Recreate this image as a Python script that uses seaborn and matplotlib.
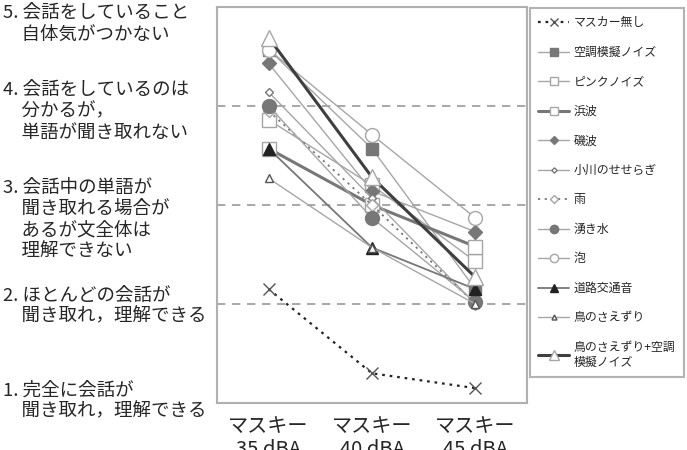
import numpy as np
import pandas as pd
import seaborn as sns
import matplotlib
matplotlib.use('Agg')
import matplotlib.pyplot as plt
from matplotlib import transforms

###############################################################################
# Data
###############################################################################
MASKERS = ['マスキー\n35 dBA', 'マスキー\n40 dBA', 'マスキー\n45 dBA']
SERIES = [
    'マスカー無し', '空調模擬ノイズ', 'ピンクノイズ', '浜波', '磯波',
    '小川のせせらぎ', '雨', '湧き水', '泡', '道路交通音', '鳥のさえずり',
    '鳥のさえずり+空調\n模擬ノイズ'
]
V_NONE = [2.15, 1.30, 1.15]
V_AIRCON = [4.57, 3.57, 2.15]
V_PINK = [3.86, 3.20, 2.43]
V_BEACH = [3.57, 3.00, 2.58]
V_ROCK = [4.43, 3.14, 2.73]
V_STREAM = [4.14, 3.07, 2.00]
V_RAIN = [3.95, 3.00, 2.00]
V_SPRING = [4.00, 2.87, 2.02]
V_FOAM = [4.57, 3.71, 2.87]
V_TRAFFIC = [3.57, 2.57, 2.15]
V_BIRD = [3.27, 2.57, 2.00]
V_BIRDAIR = [4.69, 3.28, 2.27]
VALUES = [V_NONE, V_AIRCON, V_PINK, V_BEACH, V_ROCK, V_STREAM, V_RAIN,
          V_SPRING, V_FOAM, V_TRAFFIC, V_BIRD, V_BIRDAIR]
LEVELS = [
    '1. 完全に会話が\n\u3000聞き取れ，理解できる',
    '2. ほとんどの会話が\n\u3000聞き取れ，理解できる',
    '3. 会話中の単語が\n\u3000聞き取れる場合が\n\u3000あるが文全体は\n\u3000理解できない',
    '4. 会話をしているのは\n\u3000分かるが，\n\u3000単語が聞き取れない',
    '5. 会話をしていること\n\u3000自体気がつかない',
]
LEVEL_Y = [1.02, 1.98, 2.85, 3.95, 4.83]

df = pd.DataFrame([
    {'series': s, 'x': i, 'score': v}
    for (s, vals) in zip(SERIES, VALUES) for (i, v) in enumerate(vals)
])
###############################################################################
# Styles
###############################################################################
LGRAY, MGRAY, DGRAY = '#a6a6a6', '#777777', '#3f3f3f'
STY = {
    SERIES[0]: dict(color='#222222', ls=(0, (1.2, 2.2)), lw=1.6, marker='x', ms=9, mfc='none', mec='#555555', mew=1.0),
    SERIES[1]: dict(color=LGRAY, ls='-', lw=1.0, marker='s', ms=9, mfc=MGRAY, mec=MGRAY, mew=1.0),
    SERIES[2]: dict(color=LGRAY, ls='-', lw=1.0, marker='s', ms=9.5, mfc='white', mec=LGRAY, mew=1.0),
    SERIES[3]: dict(color=MGRAY, ls='-', lw=2.2, marker='s', ms=9.5, mfc='white', mec=LGRAY, mew=1.0),
    SERIES[4]: dict(color=LGRAY, ls='-', lw=1.0, marker='D', ms=7.5, mfc=MGRAY, mec=MGRAY, mew=1.0),
    SERIES[5]: dict(color=LGRAY, ls='-', lw=1.0, marker='D', ms=4.5, mfc='white', mec=MGRAY, mew=1.0),
    SERIES[6]: dict(color=MGRAY, ls=(0, (1.2, 2.5)), lw=1.3, marker='D', ms=6.5, mfc='white', mec=LGRAY, mew=1.0),
    SERIES[7]: dict(color=LGRAY, ls='-', lw=1.0, marker='o', ms=10, mfc=MGRAY, mec=MGRAY, mew=1.0),
    SERIES[8]: dict(color=LGRAY, ls='-', lw=1.0, marker='o', ms=10, mfc='white', mec=LGRAY, mew=1.0),
    SERIES[9]: dict(color=MGRAY, ls='-', lw=1.3, marker='^', ms=9, mfc='#222222', mec='#222222', mew=1.0),
    SERIES[10]: dict(color=LGRAY, ls='-', lw=1.0, marker='^', ms=6, mfc='white', mec='#555555', mew=1.0),
    SERIES[11]: dict(color=DGRAY, ls='-', lw=2.2, marker='^', ms=11, mfc='white', mec=LGRAY, mew=1.0),
}
###############################################################################
# Plot
###############################################################################
sns.set_style('white')
plt.rcParams['font.family'] = ['Noto Sans CJK JP', 'DejaVu Sans']
fig = plt.figure(figsize=(6.87, 4.5), dpi=100)
ax = fig.add_axes([217 / 687, 1 - 403 / 450, 310 / 687, 396 / 450])
for s in SERIES:
    st = STY[s]
    sns.lineplot(
        data=df[df['series'] == s], x='x', y='score', ax=ax, label=s,
        color=st['color'], linestyle=st['ls'], linewidth=st['lw'],
        marker=st['marker'], markersize=st['ms'], markerfacecolor=st['mfc'],
        markeredgecolor=st['mec'], markeredgewidth=st['mew'], zorder=3
    )
(handles, labels) = ax.get_legend_handles_labels()
ax.get_legend().remove()
for lvl in [2, 3, 4]:
    ax.axhline(lvl, color='#9a9a9a', lw=1.2, ls=(0, (5, 4)), zorder=1)
ax.set_xlim(-0.5, 2.5)
ax.set_ylim(1, 5)
ax.set_xticks(range(len(MASKERS)))
ax.set_xticklabels(MASKERS, fontsize=14.5, linespacing=1.15)
ax.set_xticks([0.5, 1.5], minor=True)
ax.tick_params(axis='x', which='major', length=0, pad=9)
ax.tick_params(axis='x', which='minor', length=3, direction='in', color='#aaaaaa')
ax.set_yticks([])
ax.set_xlabel('')
ax.set_ylabel('')
for sp in ax.spines.values():
    sp.set_visible(True)
    sp.set_color('#b0b0b0')
    sp.set_linewidth(1.5)
trans = transforms.blended_transform_factory(fig.transFigure, ax.transData)
for (txt, y) in zip(LEVELS, LEVEL_Y):
    ax.text(3 / 687, y, txt, transform=trans, ha='left', va='center',
            fontsize=13.3, linespacing=1.25, clip_on=False)
leg = fig.legend(
    handles, labels, loc='upper left', bbox_to_anchor=(530 / 687, 1 - 8 / 450),
    fontsize=8.6, frameon=True, fancybox=False, edgecolor='#a0a0a0',
    handlelength=2.6, labelspacing=1.38, borderpad=0.7, handletextpad=0.35,
    markerscale=0.6, borderaxespad=0
)
leg.get_frame().set_linewidth(1.5)
fig.savefig('out.png', dpi=100)
